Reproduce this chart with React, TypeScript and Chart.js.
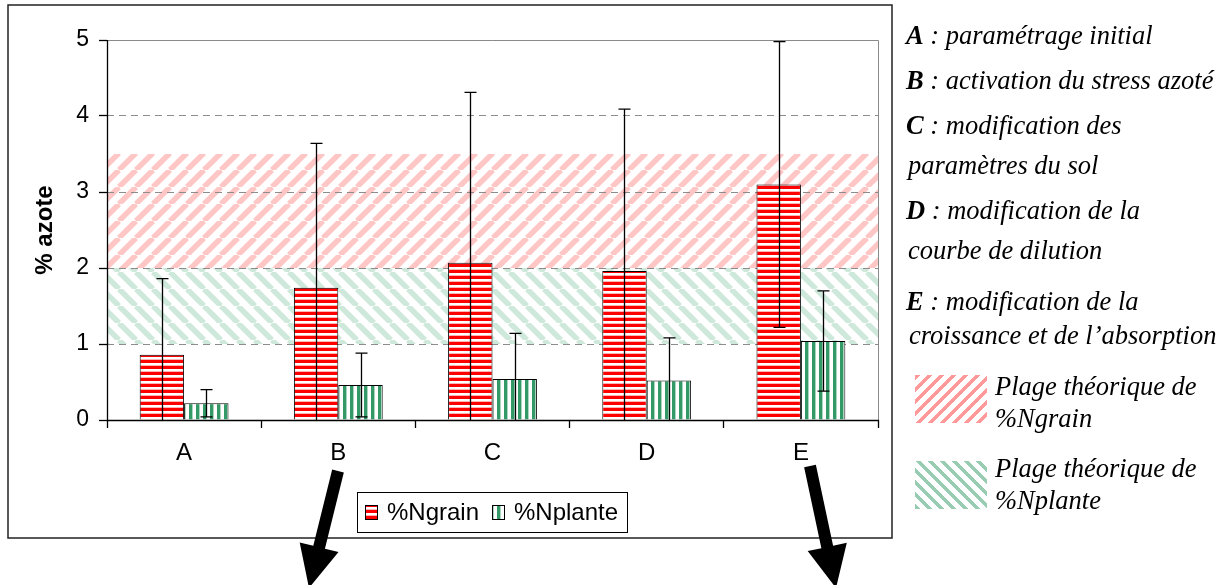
import React, { useEffect, useRef } from 'react';
import { Chart, registerables } from 'chart.js';

Chart.register(...registerables);

const categories = ['A', 'B', 'C', 'D', 'E'];
const seriesLabels = ['%Ngrain', '%Nplante'];
const ngrain = [0.86, 1.74, 2.07, 1.96, 3.1];
const ngrainErr = [1.0, 1.9, 2.24, 2.13, 1.88];
const nplante = [0.22, 0.46, 0.54, 0.52, 1.04];
const nplanteErr = [0.18, 0.42, 0.6, 0.56, 0.66];
const yTicks = [0, 1, 2, 3, 4, 5];
const grainRange = [2, 3.5];
const planteRange = [1, 2];

const noteLines = [
  { y: 35, x: 906, bold: 'A', text: ' : paramétrage initial' },
  { y: 80, x: 906, bold: 'B', text: ' : activation du stress azoté' },
  { y: 125, x: 906, bold: 'C', text: ' : modification des' },
  { y: 165, x: 908, bold: '', text: 'paramètres du sol' },
  { y: 210, x: 906, bold: 'D', text: ' : modification de la' },
  { y: 250, x: 908, bold: '', text: 'courbe de dilution' },
  { y: 301, x: 906, bold: 'E', text: ' : modification de la' },
  { y: 335, x: 909, bold: '', text: 'croissance et de l\u2019absorption' },
  { y: 386, x: 995, bold: '', text: 'Plage théorique de' },
  { y: 418, x: 995, bold: '', text: '%Ngrain' },
  { y: 468, x: 995, bold: '', text: 'Plage théorique de' },
  { y: 500, x: 995, bold: '', text: '%Nplante' },
];

const SANS = '"Liberation Sans", Arial, sans-serif';
const SERIF = '"Liberation Serif", "Times New Roman", serif';

function makePattern(w: number, h: number, draw: (g: CanvasRenderingContext2D) => void) {
  const c = document.createElement('canvas');
  c.width = w;
  c.height = h;
  const g = c.getContext('2d')!;
  draw(g);
  return g.createPattern(c, 'repeat')!;
}

function diagPattern(P: number, color: string, lw: number, slash: boolean) {
  return makePattern(P, P, (g) => {
    g.strokeStyle = color;
    g.lineWidth = lw;
    g.beginPath();
    for (const k of [-P, 0, P]) {
      if (slash) {
        g.moveTo(k, P);
        g.lineTo(k + P, 0);
      } else {
        g.moveTo(k, 0);
        g.lineTo(k + P, P);
      }
    }
    g.stroke();
  });
}

function drawArrow(ctx: CanvasRenderingContext2D, x0: number, y0: number, x1: number, y1: number) {
  const dx = x1 - x0, dy = y1 - y0;
  const L = Math.hypot(dx, dy);
  const ux = dx / L, uy = dy / L;
  const px = -uy, py = ux;
  const sw = 6, hl = 42, hw = 20;
  const bx = x1 - ux * hl, by = y1 - uy * hl;
  ctx.beginPath();
  ctx.moveTo(x0 + px * sw, y0 + py * sw);
  ctx.lineTo(bx + px * sw, by + py * sw);
  ctx.lineTo(bx + px * hw, by + py * hw);
  ctx.lineTo(x1, y1);
  ctx.lineTo(bx - px * hw, by - py * hw);
  ctx.lineTo(bx - px * sw, by - py * sw);
  ctx.lineTo(x0 - px * sw, y0 - py * sw);
  ctx.closePath();
  ctx.fillStyle = '#000';
  ctx.fill();
}

export default function App() {
  const ref = useRef<HTMLCanvasElement>(null);

  useEffect(() => {
    const canvas = ref.current!;
    const redBar = makePattern(8, 6, (g) => {
      g.fillStyle = '#ff0000';
      g.fillRect(0, 0, 8, 6);
      g.fillStyle = '#ffffff';
      g.fillRect(0, 3, 8, 2);
      g.fillStyle = '#ffb4b4';
      g.fillRect(0, 5, 8, 1);
    });
    const greenBar = makePattern(7, 8, (g) => {
      g.fillStyle = '#ffffff';
      g.fillRect(0, 0, 7, 8);
      g.fillStyle = '#339966';
      g.fillRect(0, 0, 3, 8);
      g.fillStyle = '#a9d6bf';
      g.fillRect(3, 0, 1, 8);
    });
    const redBand = diagPattern(17, '#ffc6c6', 5.5, true);
    const greenBand = diagPattern(17, '#cfe8dc', 5.5, false);

    const decor = {
      id: 'decor',
      beforeDraw(chart: any) {
        const { ctx, chartArea: a, scales } = chart;
        const y = scales.y;
        ctx.save();
        const g1 = y.getPixelForValue(grainRange[1]);
        const g0 = y.getPixelForValue(grainRange[0]);
        ctx.fillStyle = redBand;
        ctx.fillRect(a.left, g1, a.right - a.left, g0 - g1);
        const p1 = y.getPixelForValue(planteRange[1]);
        const p0 = y.getPixelForValue(planteRange[0]);
        ctx.fillStyle = greenBand;
        ctx.fillRect(a.left, p1, a.right - a.left, p0 - p1);
        ctx.restore();
      },
      afterDatasetsDraw(chart: any) {
        const { ctx, chartArea: a, scales } = chart;
        const y = scales.y;
        const errs = [ngrainErr, nplanteErr];
        ctx.save();
        ctx.beginPath();
        ctx.rect(a.left, a.top - 2, a.right - a.left, a.bottom - a.top + 2);
        ctx.clip();
        ctx.strokeStyle = '#000';
        ctx.lineWidth = 1.3;
        chart.data.datasets.forEach((ds: any, di: number) => {
          const meta = chart.getDatasetMeta(di);
          meta.data.forEach((bar: any, i: number) => {
            const v = ds.data[i];
            const e = errs[di][i];
            const x = Math.round(bar.x) + 0.5;
            const yt = y.getPixelForValue(v + e);
            const lowV = v - e;
            const yb = lowV > 0 ? y.getPixelForValue(lowV) : a.bottom;
            ctx.beginPath();
            ctx.moveTo(x, yt);
            ctx.lineTo(x, yb);
            ctx.moveTo(x - 6, yt);
            ctx.lineTo(x + 6, yt);
            if (lowV > 0) {
              ctx.moveTo(x - 6, yb);
              ctx.lineTo(x + 6, yb);
            }
            ctx.stroke();
          });
        });
        ctx.restore();
      },
      afterDraw(chart: any) {
        const { ctx, chartArea: a } = chart;
        ctx.save();
        ctx.lineWidth = 1;
        ctx.strokeStyle = '#8a8a8a';
        ctx.beginPath();
        ctx.moveTo(a.left, a.top + 0.5);
        ctx.lineTo(a.right + 0.5, a.top + 0.5);
        ctx.lineTo(a.right + 0.5, a.bottom);
        ctx.stroke();
        ctx.strokeStyle = '#000';
        ctx.lineWidth = 1.3;
        ctx.beginPath();
        ctx.moveTo(a.left + 0.5, a.top);
        ctx.lineTo(a.left + 0.5, a.bottom + 0.5);
        ctx.lineTo(a.right + 1, a.bottom + 0.5);
        ctx.stroke();
        ctx.lineWidth = 1.5;
        ctx.strokeStyle = '#222';
        ctx.strokeRect(8, 5, 884, 533);
        const lx = 357, ly = 492, lw = 270, lh = 40;
        ctx.fillStyle = '#fff';
        ctx.fillRect(lx, ly, lw, lh);
        ctx.lineWidth = 1;
        ctx.strokeStyle = '#000';
        ctx.strokeRect(lx + 0.5, ly + 0.5, lw, lh);
        const sw = [
          { x: 365, pat: redBar, tx: 387 },
          { x: 492, pat: greenBar, tx: 514 },
        ];
        ctx.font = '24px ' + SANS;
        ctx.textBaseline = 'middle';
        sw.forEach((s, i) => {
          ctx.fillStyle = s.pat;
          ctx.fillRect(s.x, 505, 12, 14);
          ctx.strokeStyle = '#000';
          ctx.strokeRect(s.x + 0.5, 505.5, 12, 14);
          ctx.fillStyle = '#000';
          ctx.fillText(seriesLabels[i], s.tx, 513);
        });
        drawArrow(ctx, 338, 471, 309, 588);
        drawArrow(ctx, 810, 466, 836, 588);
        ctx.restore();
      },
    };

    const chart = new Chart(canvas, {
      type: 'bar',
      data: {
        labels: categories,
        datasets: [
          {
            label: seriesLabels[0],
            data: ngrain,
            backgroundColor: redBar as any,
            borderColor: '#000',
            borderWidth: 1,
            categoryPercentage: 0.576,
            barPercentage: 1,
          },
          {
            label: seriesLabels[1],
            data: nplante,
            backgroundColor: greenBar as any,
            borderColor: '#000',
            borderWidth: 1,
            categoryPercentage: 0.576,
            barPercentage: 1,
          },
        ],
      },
      options: {
        responsive: false,
        animation: false,
        devicePixelRatio: 1,
        layout: { padding: { left: 0, top: 40, right: 353, bottom: 0 } },
        plugins: { legend: { display: false }, tooltip: { enabled: false } },
        scales: {
          x: {
            grid: {
              offset: true,
              drawOnChartArea: false,
              drawTicks: true,
              tickLength: 8,
              tickColor: '#000',
              tickWidth: 1.3,
            },
            border: { display: false },
            ticks: { color: '#000', font: { family: SANS, size: 24 }, padding: 11 },
            afterFit: (s: any) => {
              s.height = 165;
            },
          },
          y: {
            min: 0,
            max: 5,
            afterBuildTicks: (s: any) => {
              s.ticks = yTicks.map((v) => ({ value: v }));
            },
            grid: {
              color: (c: any) => (c.tick && c.tick.value > 0 && c.tick.value < 5 ? '#8c8c8c' : 'rgba(0,0,0,0)'),
              lineWidth: 1,
              tickColor: '#000',
              tickLength: 8,
              tickWidth: 1.3,
              tickBorderDash: [],
            },
            border: { display: false, dash: [7, 5] },
            ticks: { color: '#000', font: { family: SANS, size: 23 }, padding: 10 },
            title: {
              display: true,
              text: '% azote',
              color: '#000',
              font: { family: SANS, size: 24, weight: 'bold' },
              padding: { top: 31, bottom: 0 },
            },
            afterFit: (s: any) => {
              s.width = 107;
            },
          },
        },
      },
      plugins: [decor],
    } as any);
    return () => chart.destroy();
  }, []);

  return (
    <div style={{ position: 'absolute', left: 0, top: 0, width: 1231, height: 585, background: '#fff', overflow: 'hidden' }}>
      <canvas ref={ref} width={1231} height={585} style={{ position: 'absolute', left: 0, top: 0, display: 'block' }} />
      {noteLines.map((l, i) => (
        <div
          key={i}
          style={{
            position: 'absolute',
            left: l.x,
            top: l.y - 16,
            height: 32,
            lineHeight: '32px',
            fontFamily: SERIF,
            fontStyle: 'italic',
            fontSize: 26.5,
            color: '#000',
            whiteSpace: 'nowrap',
          }}
        >
          {l.bold && <b>{l.bold}</b>}
          {l.text}
        </div>
      ))}
      <div
        style={{
          position: 'absolute',
          left: 915,
          top: 375,
          width: 72,
          height: 48,
          background: 'repeating-linear-gradient(135deg, #ff9a9a 0px, #ff9a9a 4px, #ffffff 4px, #ffffff 8.5px)',
        }}
      />
      <div
        style={{
          position: 'absolute',
          left: 915,
          top: 461,
          width: 72,
          height: 48,
          background: 'repeating-linear-gradient(45deg, #98cdb3 0px, #98cdb3 4px, #ffffff 4px, #ffffff 8.5px)',
        }}
      />
    </div>
  );
}
